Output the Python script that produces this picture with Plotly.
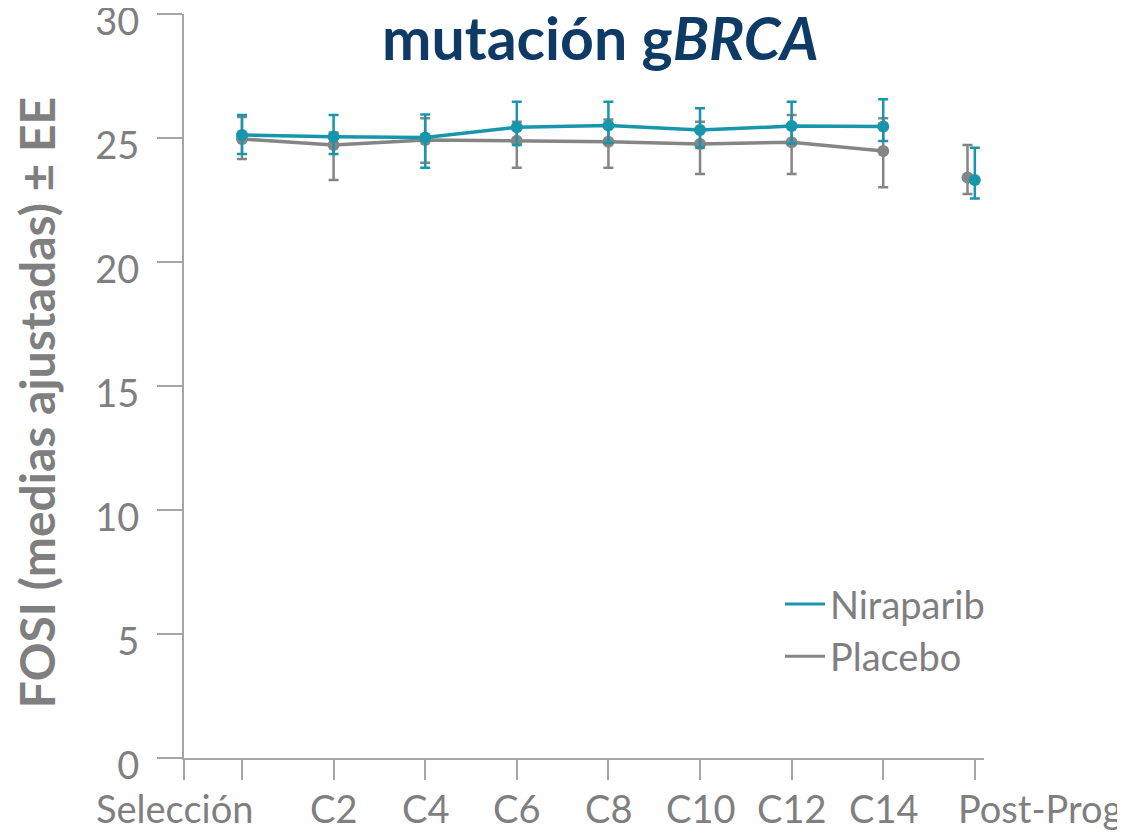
import plotly.graph_objects as go

categories = ["Selección", "C2", "C4", "C6", "C8", "C10", "C12", "C14", "Post-Prog"]

nira_mean = [25.12, 25.05, 25.02, 25.43, 25.50, 25.32, 25.48, 25.46, 23.31]
nira_upper = [25.93, 25.93, 25.95, 26.46, 26.46, 26.20, 26.46, 26.56, 24.61]
nira_lower = [24.35, 24.35, 23.80, 24.72, 24.80, 24.62, 24.78, 24.88, 22.56]

plac_mean = [24.96, 24.72, 24.92, 24.89, 24.85, 24.76, 24.83, 24.48, 23.41]
plac_upper = [25.85, 25.22, 25.80, 25.66, 25.75, 25.66, 25.93, 25.80, 24.72]
plac_lower = [24.15, 23.31, 24.00, 23.80, 23.80, 23.55, 23.55, 23.01, 22.74]

y_ticks = [0, 5, 10, 15, 20, 25, 30]

TEAL = "#1795ad"
GREY = "#858585"
AXIS = "#a6a6a6"
TXT = "#7f7f7f"
FONT = "Lato"

xs = list(range(len(categories)))
n_main = len(categories) - 1
x_lo = -0.633
x_hi = 8.10

fig = go.Figure()


def add_series(name, mean, upper, lower, color, post_shift):
    plus = [u - m for u, m in zip(upper, mean)]
    minus = [m - l for l, m in zip(lower, mean)]
    err_style = dict(type="data", symmetric=False, color=color, thickness=2.5, width=5)
    fig.add_trace(go.Scatter(
        x=xs[:n_main], y=mean[:n_main], mode="lines+markers",
        line=dict(color=color, width=3.5), marker=dict(color=color, size=12),
        error_y=dict(array=plus[:n_main], arrayminus=minus[:n_main], **err_style),
        showlegend=False, name=name))
    fig.add_trace(go.Scatter(
        x=[xs[-1] + post_shift], y=mean[n_main:], mode="markers",
        marker=dict(color=color, size=12),
        error_y=dict(array=plus[n_main:], arrayminus=minus[n_main:], **err_style),
        showlegend=False, name=name))
    fig.add_trace(go.Scatter(
        x=[None], y=[None], mode="lines", line=dict(color=color, width=3),
        name=name, showlegend=True, legendgroup=name))


add_series("Placebo", plac_mean, plac_upper, plac_lower, GREY, -0.08)
add_series("Niraparib", nira_mean, nira_upper, nira_lower, TEAL, 0.0)

annotations = []
label_shift = {0: -67, len(categories) - 1: 65}
for i, c in enumerate(categories):
    annotations.append(dict(
        x=xs[i], y=0, xref="x", yref="paper", text=c, showarrow=False,
        xanchor="center", yanchor="middle", yshift=-50, xshift=label_shift.get(i, 0),
        font=dict(family=FONT, size=38, color=TXT)))

annotations.append(dict(
    x=-0.184, y=0.478, xref="paper", yref="paper", showarrow=False,
    xanchor="center", yanchor="middle",
    text="<b>FOSI (medias ajustadas) ± EE</b>", textangle=-90,
    font=dict(family=FONT, size=48, color=TXT)))

annotations.append(dict(
    x=0.521, y=0.968, xref="paper", yref="paper", showarrow=False,
    text="<b>mutación g<i>BRCA</i></b>", xanchor="center", yanchor="middle",
    font=dict(family=FONT, size=59, color="#0d3b66")))

# the page body has an 8px margin; size the figure so the plot lands at the right spot
fig.update_layout(
    width=1117, height=828,
    margin=dict(l=176, r=141, t=6, b=78),
    paper_bgcolor="white", plot_bgcolor="white",
    annotations=annotations,
    showlegend=True,
    legend=dict(x=0.745, y=0.249, xanchor="left", yanchor="top",
                traceorder="reversed",
                font=dict(family=FONT, size=38, color=TXT),
                bgcolor="rgba(0,0,0,0)", tracegroupgap=4, itemwidth=40),
    xaxis=dict(range=[x_lo, x_hi], showgrid=False, zeroline=False,
               showline=True, linecolor=AXIS, linewidth=2, automargin=False,
               tickvals=[x_lo] + xs, ticks="outside", ticklen=20,
               tickcolor=AXIS, tickwidth=2, showticklabels=False),
    yaxis=dict(range=[0, 30], tickvals=y_ticks, showgrid=False, zeroline=False,
               showline=True, linecolor=AXIS, linewidth=2, automargin=False,
               ticks="outside", ticklen=25, tickcolor=AXIS, tickwidth=2,
               ticklabelstandoff=10, ticklabelshift=8, ticklabeloverflow="allow",
               tickfont=dict(family=FONT, size=38, color=TXT)),
)

fig.write_html("out.html")
